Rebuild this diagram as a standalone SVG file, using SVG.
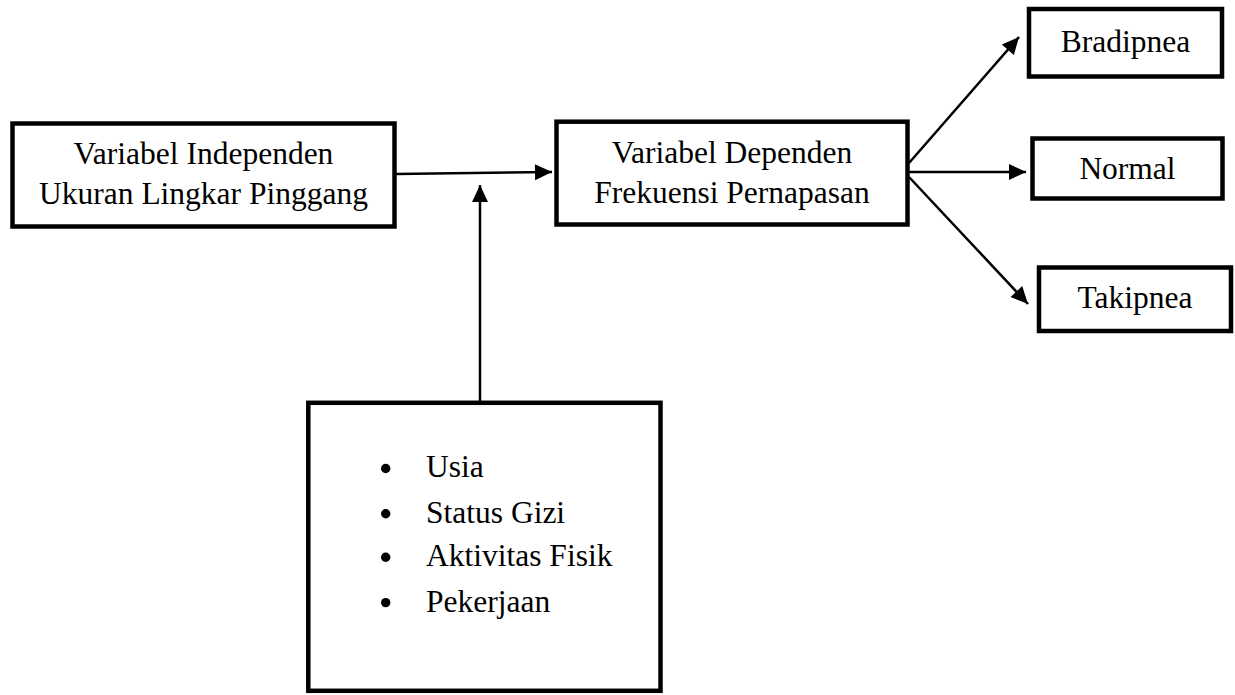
<svg xmlns="http://www.w3.org/2000/svg" width="1235" height="695" viewBox="0 0 1235 695">
<style>
.box{fill:#fff;stroke:#000;stroke-width:4.5}
.t{font-family:"Liberation Serif","Times New Roman",serif;font-size:31.5px;fill:#000}
.c{text-anchor:middle}
.ln{stroke:#000;stroke-width:2.5;fill:none;marker-end:url(#ah)}
</style>
<defs>
<marker id="ah" markerUnits="userSpaceOnUse" markerWidth="19" markerHeight="17" refX="17" refY="8" orient="auto" overflow="visible">
<path d="M0,0 L17,8 L0,16 z" fill="#000"/>
</marker>
</defs>
<rect width="1235" height="695" fill="#fff"/>
<g id="connectors">
<line class="ln" x1="396" y1="174" x2="552" y2="172"/>
<line class="ln" x1="480" y1="401" x2="480" y2="185"/>
<line class="ln" x1="909" y1="163" x2="1019" y2="37"/>
<line class="ln" x1="909" y1="172" x2="1026" y2="172"/>
<line class="ln" x1="909" y1="177" x2="1028" y2="304"/>
</g>
<g id="independen">
<rect class="box" x="12.5" y="123.5" width="382" height="103"/>
<text class="t c" x="203.5" y="164">Variabel Independen</text>
<text class="t c" x="203.5" y="204">Ukuran Lingkar Pinggang</text>
</g>
<g id="dependen">
<rect class="box" x="556.5" y="121.7" width="351" height="102.8"/>
<text class="t c" x="732" y="163">Variabel Dependen</text>
<text class="t c" x="732" y="203">Frekuensi Pernapasan</text>
</g>
<g id="bradipnea">
<rect class="box" x="1029" y="9" width="193" height="67.5"/>
<text class="t c" x="1125.5" y="51.5">Bradipnea</text>
</g>
<g id="normal">
<rect class="box" x="1032.5" y="138.5" width="190" height="60"/>
<text class="t c" x="1127.5" y="179.3">Normal</text>
</g>
<g id="takipnea">
<rect class="box" x="1039" y="267.5" width="192" height="63.5"/>
<text class="t c" x="1135" y="308">Takipnea</text>
</g>
<g id="faktor">
<rect class="box" x="308.3" y="402.8" width="352.2" height="288"/>
<circle cx="385.7" cy="468.5" r="4.7"/>
<circle cx="385.7" cy="513.7" r="4.7"/>
<circle cx="385.7" cy="557.2" r="4.7"/>
<circle cx="385.7" cy="602.6" r="4.7"/>
<text class="t" x="426" y="477.3">Usia</text>
<text class="t" x="426" y="522.7">Status Gizi</text>
<text class="t" x="426" y="566.3">Aktivitas Fisik</text>
<text class="t" x="426" y="611.7">Pekerjaan</text>
</g>
</svg>
